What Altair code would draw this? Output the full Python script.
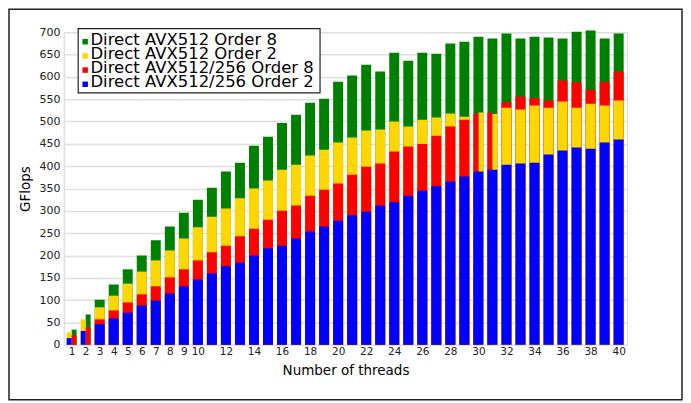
import altair as alt
import pandas as pd

threads = list(range(1, 41))

series_names = [
    "Direct AVX512 Order 8",
    "Direct AVX512 Order 2",
    "Direct AVX512/256 Order 8",
    "Direct AVX512/256 Order 2",
]
series_colors = ["#008000", "#FFD700", "#FF0000", "#0000FF"]

green = [34, 68, 101, 135, 169, 200, 234, 265, 296, 325, 352, 388, 408, 446, 466, 497, 515, 542, 551, 589,
         603, 627, 612, 654, 636, 654, 652, 675, 679, 690, 686, 697, 686, 690, 688, 686, 701, 704, 686, 697]
yellow = [28, 57, 84, 110, 137, 164, 189, 211, 238, 263, 287, 305, 328, 350, 368, 392, 403, 424, 437, 453,
          464, 480, 482, 500, 489, 504, 509, 518, 511, 520, 517, 531, 527, 536, 531, 545, 531, 540, 536, 547]
red = [21, 39, 57, 77, 95, 113, 131, 151, 169, 189, 207, 222, 243, 260, 280, 300, 312, 334, 347, 361,
       381, 399, 406, 433, 444, 450, 468, 489, 504, 518, 520, 543, 556, 553, 547, 592, 588, 571, 589, 612]
blue = [15, 31, 46, 59, 72, 88, 99, 115, 131, 146, 160, 176, 184, 200, 216, 222, 238, 254, 265, 278,
        290, 298, 312, 319, 334, 345, 355, 366, 377, 388, 392, 403, 406, 408, 426, 435, 442, 439, 453, 460]

# which part of the slot each bar occupies: F = full, L = left half, R = right half
green_part = ["R", "R"] + ["F"] * 38
yellow_part = ["L", "L"] + ["F"] * 27 + ["R", "R"] + ["F"] * 9
red_part = ["R", "R"] + ["F"] * 27 + ["L", "L"] + ["F"] * 9
blue_part = ["L", "L"] + ["F"] * 38

x_tick_values = list(range(1, 11)) + list(range(12, 41, 2))
y_tick_values = list(range(0, 701, 50))

rows = []
for name, vals, parts in zip(series_names, [green, yellow, red, blue],
                             [green_part, yellow_part, red_part, blue_part]):
    for t, v, p in zip(threads, vals, parts):
        rows.append({"thread": t, "value": v, "series": name, "part": p})
# overlapping bars: at each thread the tallest is drawn first, the shortest on top
df = pd.DataFrame(rows).sort_values(["thread", "value"], ascending=[True, False]).reset_index(drop=True)

legend_df = pd.DataFrame({"series": series_names, "idx": list(range(len(series_names)))})

FONT = "DejaVu Sans"
HW = 0.355

color_scale = alt.Scale(domain=series_names, range=series_colors)

x_enc = alt.X(
    "x0:Q",
    scale=alt.Scale(domain=[0.45, 40.6], nice=False, zero=False),
    axis=alt.Axis(values=x_tick_values, grid=False, ticks=False, domain=False,
                  labelFontSize=10.5, labelPadding=2, labelColor="#222",
                  title="Number of threads", titleFontSize=13.5, titleFontWeight="normal",
                  titleColor="#000", titlePadding=6, labelFlush=False),
)
y_enc = alt.Y(
    "value:Q",
    scale=alt.Scale(domain=[0, 700], nice=False),
    axis=alt.Axis(values=y_tick_values, grid=True, gridColor="#e0e0e0", gridWidth=1.5,
                  ticks=False, domainColor="#e0e0e0", domainWidth=1.5,
                  labelFontSize=11, labelPadding=4, labelColor="#222",
                  title="GFlops", titleFontSize=13.5, titleFontWeight="normal",
                  titleColor="#000", titlePadding=6),
)

bars = alt.Chart(df).transform_calculate(
    x0=f"datum.thread - {HW} + (datum.part == 'R' ? {HW} : 0)",
    x1=f"datum.thread + {HW} - (datum.part == 'L' ? {HW} : 0)",
).mark_rect().encode(
    x=x_enc, x2="x1:Q", y=y_enc, y2=alt.datum(0),
    color=alt.Color("series:N", scale=color_scale, legend=None),
)

frame = alt.Chart(alt.Data(values=[{"a": 1}])).mark_rect(
    fill=None, stroke="#222", strokeWidth=1.5
).encode(
    x=alt.value(-55), x2=alt.value(619), y=alt.value(-23), y2=alt.value(368)
)

# legend drawn as its own small layer (tight row spacing as in the reference)
leg_y = alt.Y("idx:Q", scale=alt.Scale(domain=[0, 3], range=[9.5, 52.1], nice=False, zero=False),
              axis=None)
leg_box = alt.Chart(alt.Data(values=[{"a": 1}])).mark_rect(
    fill="white", stroke="#222", strokeWidth=1.2
).encode(
    x=alt.value(14.3), x2=alt.value(256.5), y=alt.value(-3.7), y2=alt.value(60.7)
)
leg_sym = alt.Chart(legend_df).mark_square(size=30, opacity=1).encode(
    x=alt.value(21.3), y=leg_y,
    color=alt.Color("series:N", scale=color_scale, legend=None),
)
leg_txt = alt.Chart(legend_df).mark_text(
    align="left", baseline="alphabetic", dy=2.8, fontSize=16.5, font=FONT, color="#000"
).encode(
    x=alt.value(26.5), y=leg_y, text="series:N"
)
legend_layer = alt.layer(leg_sym, leg_txt)

chart = alt.layer(frame, bars, leg_box, legend_layer).resolve_scale(
    y="independent"
).properties(
    width=564, height=313, padding=0
).configure_view(
    stroke="#e0e0e0", strokeWidth=1.5
).configure(
    font=FONT
)

chart.save("out.html", embed_options={"renderer": "svg", "actions": False})
